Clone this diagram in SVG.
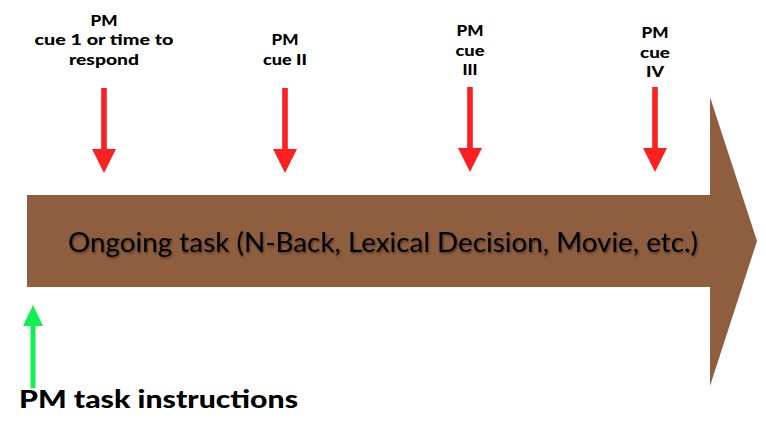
<svg xmlns="http://www.w3.org/2000/svg" width="766" height="425" viewBox="0 0 766 425">
<style>
.lbl{font-family:Lato,"Open Sans","DejaVu Sans",sans-serif;font-weight:900;font-size:15px;fill:#000;text-anchor:middle}
.main{font-family:Lato,"Open Sans","DejaVu Sans",sans-serif;font-size:26px;fill:#000}
.big{font-family:Lato,"Open Sans","DejaVu Sans",sans-serif;font-weight:900;font-size:24px;fill:#000}
.red{fill:#fd2020}
.green{fill:#10f050}
</style>
<defs>
<filter id="sh" x="-5%" y="-30%" width="110%" height="160%">
<feDropShadow dx="1" dy="1.5" stdDeviation="1" flood-color="#000" flood-opacity="0.45"/>
</filter>
<path id="downArrow" d="M-2.8,0 H2.8 V61 H12 L0,85 L-12,61 H-2.8 Z"/>
</defs>
<g id="timeline">
<path d="M27,195 H710 V97 L757,241 L710,386 V287 H27 Z" fill="#8f5e3f"/>
<text class="main" x="68" y="252" textLength="630" lengthAdjust="spacingAndGlyphs" filter="url(#sh)">Ongoing task (N-Back, Lexical Decision, Movie, etc.)</text>
</g>
<g id="cue1">
<text class="lbl" x="104" y="26" textLength="27" lengthAdjust="spacingAndGlyphs">PM</text>
<text class="lbl" x="104" y="45" textLength="139" lengthAdjust="spacingAndGlyphs">cue 1 or time to</text>
<text class="lbl" x="104" y="65" textLength="70" lengthAdjust="spacingAndGlyphs">respond</text>
</g>
<g id="cue2">
<text class="lbl" x="285" y="45" textLength="27" lengthAdjust="spacingAndGlyphs">PM</text>
<text class="lbl" x="285" y="65" textLength="44" lengthAdjust="spacingAndGlyphs">cue II</text>
</g>
<g id="cue3">
<text class="lbl" x="470" y="36" textLength="27" lengthAdjust="spacingAndGlyphs">PM</text>
<text class="lbl" x="470" y="56" textLength="29" lengthAdjust="spacingAndGlyphs">cue</text>
<text class="lbl" x="470" y="75" textLength="15" lengthAdjust="spacingAndGlyphs">III</text>
</g>
<g id="cue4">
<text class="lbl" x="655" y="38" textLength="27" lengthAdjust="spacingAndGlyphs">PM</text>
<text class="lbl" x="655" y="58" textLength="30" lengthAdjust="spacingAndGlyphs">cue</text>
<text class="lbl" x="655" y="77" textLength="18" lengthAdjust="spacingAndGlyphs">IV</text>
</g>
<g id="instructions">
<text class="big" x="19" y="408" textLength="279" lengthAdjust="spacingAndGlyphs">PM task instructions</text>
</g>
<g id="connectors">
<use href="#downArrow" class="red" x="104" y="88"/>
<use href="#downArrow" class="red" x="285" y="88"/>
<use href="#downArrow" class="red" x="470" y="87"/>
<use href="#downArrow" class="red" x="655" y="87"/>
<path class="green" d="M30.5,388 V326 H23 L33,305 L43,326 H35.5 V388 Z"/>
</g>
</svg>
